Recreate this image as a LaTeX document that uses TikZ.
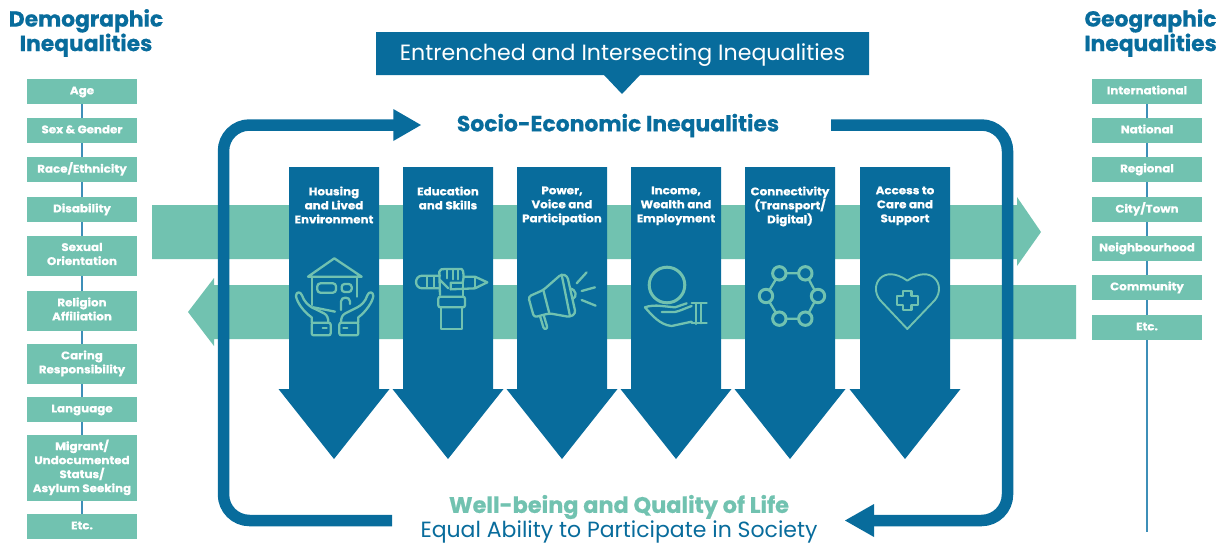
\documentclass[tikz,border=0pt]{standalone}
\usepackage{fontspec}
\setmainfont{Poppins}[BoldFeatures={FakeBold=0.6}]
\newfontfamily\widefont{Poppins}[FakeStretch=1.08,BoldFeatures={FakeBold=0.7,FakeStretch=1.08}]
\definecolor{bluec}{HTML}{086C9C}
\definecolor{tealc}{HTML}{71C2B0}
\definecolor{linec}{HTML}{3E8FB8}
\tikzset{
  every node/.style={inner sep=0pt,outer sep=0pt},
  catbox/.style={fill=tealc,text=white,minimum width=110pt,align=center,
    font=\widefont\fontsize{11}{14}\bfseries\selectfont,execute at begin node=\strut,execute at end node=\strut},
  coltext/.style={text=white,align=center,font=\widefont\fontsize{11}{14}\bfseries\selectfont},
  sidetitle/.style={text=bluec,align=center,font=\fontsize{21.8}{24.5}\bfseries\selectfont},
  ringline/.style={draw=bluec,line width=11.5pt},
  vconn/.style={draw=linec,line width=1.1pt},
  icon/.style={draw=tealc,line width=2.3pt,line join=round,line cap=round,fill=none},
  band/.style={fill=tealc,draw=none},
  downarrow/.style={fill=bluec,draw=none}
}
\newcommand{\downarr}[2]{%
  \fill[downarrow] (#1-45,167) -- (#1+45,167) -- (#1+45,389) -- (#1+55.5,389) -- (#1,459) -- (#1-55.5,389) -- (#1-45,389) -- cycle;
  \node[coltext,anchor=north] (col#1) at (#1,186.5) {#2};}
\begin{document}
\begin{tikzpicture}[x=1pt,y=-1pt]
\useasboundingbox (0,0) rectangle (1229,542);
% bands
\fill[band] (152,205) -- (1017,205) -- (1017,197) -- (1041,232) -- (1017,266) -- (1017,259) -- (152,259) -- cycle;
\fill[band] (1076,285) -- (214,285) -- (214,278) -- (188,312) -- (214,346) -- (214,339) -- (1076,339) -- cycle;
% ring
\draw[ringline,rounded corners=26pt] (392,520.5) -- (223.5,520.5) -- (223.5,125) -- (396,125);
\fill[bluec] (393.3,109) -- (421,125) -- (393.3,141) -- cycle;
\draw[ringline,rounded corners=26pt] (831,125) -- (1007.5,125) -- (1007.5,520.5) -- (870,520.5);
\fill[bluec] (874,504) -- (845,520.5) -- (874,537) -- cycle;
% banner
\fill[bluec] (376,32) -- (869,32) -- (869,75) -- (640,75) -- (622,94) -- (604,75) -- (376,75) -- cycle;
\node[text=white,font=\fontsize{22.1}{25}\selectfont] (banner) at (622.5,55) {Entrenched and Intersecting Inequalities};
\node[text=bluec,font=\fontsize{21.9}{25}\bfseries\selectfont] (socio) at (618,125.5) {Socio-Economic Inequalities};
\node[text=tealc,font=\fontsize{22.4}{25}\bfseries\selectfont] (well) at (619,507) {Well-being and Quality of Life};
\node[text=bluec,font=\fontsize{22}{25}\selectfont] (equal) at (619,531.5) {Equal Ability to Participate in Society};
% titles
\node[sidetitle] (demo) at (86,33) {Demographic\\Inequalities};
\node[sidetitle] (geo) at (1150.5,33) {Geographic\\Inequalities};
% left boxes
\node[catbox,minimum height=25pt] (l1) at (82,91.5) {Age};
\node[catbox,minimum height=25pt] (l2) at (82,130.5) {Sex \& Gender};
\node[catbox,minimum height=25pt] (l3) at (82,169.5) {Race/Ethnicity};
\node[catbox,minimum height=25pt] (l4) at (82,209.5) {Disability};
\node[catbox,minimum height=40pt] (l5) at (82,256) {Sexual\\Orientation};
\node[catbox,minimum height=40pt] (l6) at (82,311) {Religion\\Affiliation};
\node[catbox,minimum height=40pt] (l7) at (82,364) {Caring\\Responsibility};
\node[catbox,minimum height=25pt] (l8) at (82,409.5) {Language};
\node[catbox,minimum height=66pt] (l9) at (82,468) {Migrant/\\Undocumented\\Status/\\Asylum Seeking};
\node[catbox,minimum height=25pt] (l10) at (82,526.5) {Etc.};
\foreach \a/\b in {l1/l2,l2/l3,l3/l4,l4/l5,l5/l6,l6/l7,l7/l8,l8/l9,l9/l10}
  \draw[vconn] (\a.south) -- (\b.north);
% right boxes
\node[catbox,minimum height=25pt] (r1) at (1147,91.5) {International};
\node[catbox,minimum height=25pt] (r2) at (1147,130.5) {National};
\node[catbox,minimum height=25pt] (r3) at (1147,169.5) {Regional};
\node[catbox,minimum height=25pt] (r4) at (1147,209.5) {City/Town};
\node[catbox,minimum height=25pt] (r5) at (1147,248.5) {Neighbourhood};
\node[catbox,minimum height=25pt] (r6) at (1147,287.5) {Community};
\node[catbox,minimum height=25pt] (r7) at (1147,327.5) {Etc.};
\coordinate (rend) at (1147,532);
\foreach \a/\b in {r1/r2,r2/r3,r3/r4,r4/r5,r5/r6,r6/r7,r7/rend}
  \draw[vconn] (\a.south) -- (\b);
% down arrows
\downarr{334}{Housing\\and Lived\\Environment}
\downarr{448}{Education\\and Skills}
\downarr{562}{Power,\\Voice and\\Participation}
\downarr{676}{Income,\\Wealth and\\Employment}
\downarr{790}{Connectivity\\(Transport/\\Digital)}
\downarr{905}{Access to\\Care and\\Support}
% icons group 1 (third-pixel coordinates)
\begin{scope}[shift={(280,230)},x=0.3333pt,y=-0.3333pt]
 % house
 \draw[icon] (84,140) -- (163,85) -- (245,140) -- (84,140);
 \draw[icon] (95,140) -- (95,225);
 \draw[icon] (232,140) -- (232,200);
 \draw[icon,rounded corners=3pt] (112,160) rectangle (168,188);
 \draw[icon,rounded corners=3pt] (185,162) rectangle (215,186);
 \draw[icon] (183,240) -- (183,214) to[out=90,in=90,looseness=1.4] (210,214) -- (210,222);
 \draw[icon] (100,232) -- (165,245);
 % left hand
 \draw[icon] (95,278) -- (95,262) .. controls (70,245) and (50,215) .. (48,198) .. controls (48,184) and (62,184) .. (66,196) .. controls (72,215) and (85,225) .. (95,232) -- (132,250) .. controls (142,255) and (145,265) .. (145,278);
 \draw[icon,rounded corners=2pt] (95,278) rectangle (152,316);
 \draw[icon] (128,295) -- (140,295);
 % right hand
 \draw[icon] (235,278) -- (235,262) .. controls (258,245) and (278,215) .. (280,198) .. controls (280,184) and (266,184) .. (262,196) .. controls (256,215) and (245,225) .. (232,232) -- (196,250) .. controls (186,255) and (183,265) .. (183,278);
 \draw[icon,rounded corners=2pt] (178,278) rectangle (235,316);
 \draw[icon] (190,295) -- (202,295);
 % pencil
 \draw[icon] (480,137) -- (427,137) .. controls (402,137) and (402,175) .. (427,175) -- (480,175);
 \draw[icon] (552,140) -- (585,140) -- (622,157) -- (585,175) -- (512,178);
 \draw[icon] (442,138) -- (442,174);
 \draw[icon] (462,138) -- (462,174);
 \draw[icon] (585,142) -- (585,173);
 \draw[icon] (480,195) -- (478,125) .. controls (480,117) and (486,117) .. (495,117) -- (545,117) .. controls (552,120) and (552,145) .. (548,158) -- (512,158) -- (512,178);
 \draw[icon] (500,120) -- (500,145);
 \draw[icon] (518,120) -- (518,148);
 \draw[icon] (534,120) -- (534,148);
 \draw[icon] (480,150) -- (505,175);
 \draw[icon] (548,158) -- (548,200);
 \draw[icon,rounded corners=2pt] (475,200) rectangle (555,232);
 \draw[icon] (483,232) -- (483,297) -- (547,297) -- (547,232);
 % megaphone
 \draw[icon,rounded corners=3pt] (745,200) -- (790,180) -- (845,132) -- (862,138) -- (887,250) -- (870,261) -- (808,250) -- (762,262) -- cycle;
 \draw[icon] (790,180) -- (808,250);
 \draw[icon] (845,134) -- (870,258);
 \draw[icon,rounded corners=2pt] (780,258) -- (792,298) -- (803,295) -- (791,255);
 \draw[icon] (870,175) .. controls (890,180) and (892,200) .. (878,207);
 \draw[icon] (890,160) -- (920,127);
 \draw[icon] (905,183) -- (945,172);
 \draw[icon] (905,210) -- (947,227);
\end{scope}
% icons group 2
\begin{scope}[shift={(620,230)},x=0.3333pt,y=-0.3333pt]
 % coin and hand
 \draw[icon,line width=3pt] (141,165) circle (17.8pt);
 \draw[icon] (75,232) .. controls (85,228) and (105,225) .. (125,228) -- (165,232) -- (200,220);
 \draw[icon] (125,246) -- (165,246) .. controls (180,243) and (195,235) .. (215,228);
 \draw[icon] (75,232) .. controls (95,255) and (120,285) .. (155,288) -- (215,275);
 \draw[icon] (228,220) -- (228,282);
 \draw[icon] (215,220) -- (260,220);
 \draw[icon] (215,280) -- (260,280);
 \draw[icon] (242,220) -- (242,280);
 % network
 \draw[icon,line width=3pt] (478,130) circle (6.7pt) (556,130) circle (6.7pt) (594,198) circle (6.7pt) (556,266) circle (6.7pt) (478,266) circle (6.7pt) (438,198) circle (6.7pt);
 \draw[icon] (500,130) -- (534,130) (567,149) -- (583,179) (583,217) -- (567,247) (534,266) -- (500,266) (467,247) -- (449,217) (449,179) -- (467,149);
 % heart
 \draw[icon,line width=1.9pt] (862,297) -- (780,210) .. controls (745,165) and (790,100) .. (862,152) .. controls (935,100) and (980,165) .. (945,210) -- cycle;
 \draw[icon] (850,183) -- (875,183) -- (875,197) -- (894,197) -- (894,226) -- (875,226) -- (875,240) -- (850,240) -- (850,226) -- (831,226) -- (831,197) -- (850,197) -- cycle;
\end{scope}
\end{tikzpicture}
\end{document}
